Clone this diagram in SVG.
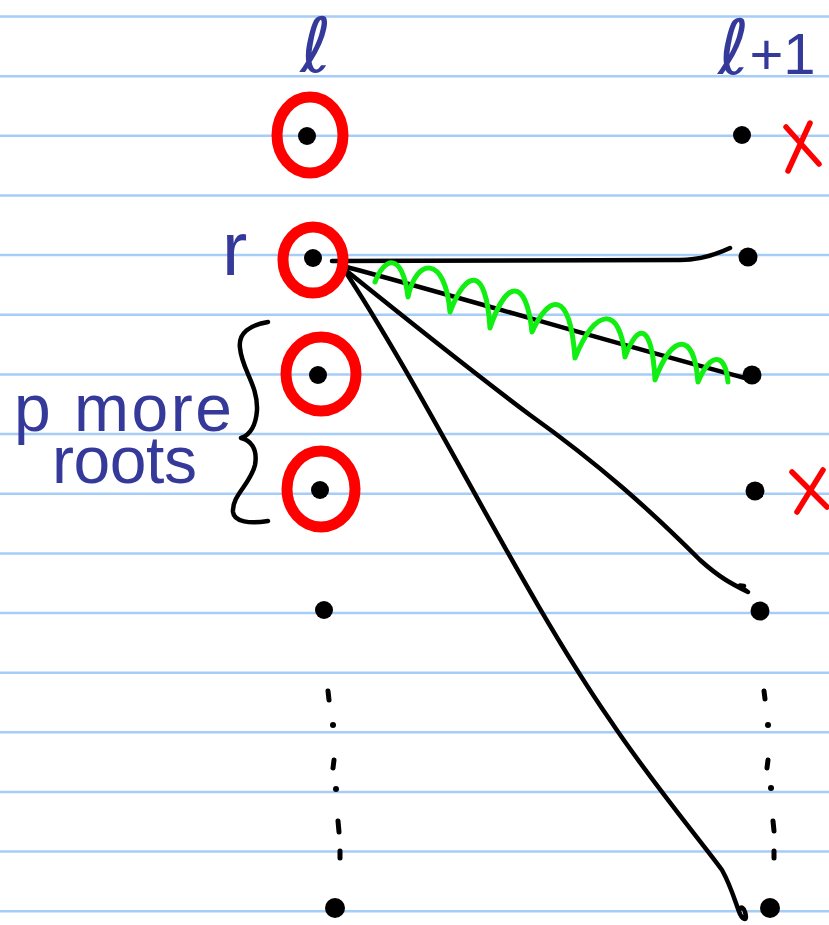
<svg xmlns="http://www.w3.org/2000/svg" width="829" height="925" viewBox="0 0 829 925">
<style>
.rule{stroke:#a6cdf7;stroke-width:2.5}
.ring{fill:none;stroke:#ff0000;stroke-width:11}
.dot{fill:#000}
.ink{fill:none;stroke:#000;stroke-width:4.5;stroke-linecap:round;stroke-linejoin:round}
.dash{fill:none;stroke:#000;stroke-width:5;stroke-linecap:round}
.wave{fill:none;stroke:#11ee11;stroke-width:5;stroke-linecap:round;stroke-linejoin:round}
.x{fill:none;stroke:#ff0000;stroke-width:5.5;stroke-linecap:round}
.lbl{fill:#34399a;font-family:"Liberation Sans",sans-serif}
.ell{font-family:"DejaVu Sans",sans-serif}
</style>
<rect width="829" height="925" fill="#fff"/>
<g id="rules">
<line class="rule" x1="0" y1="16.5" x2="829" y2="16.5"/>
<line class="rule" x1="0" y1="76.2" x2="829" y2="76.2"/>
<line class="rule" x1="0" y1="135.8" x2="829" y2="135.8"/>
<line class="rule" x1="0" y1="195.5" x2="829" y2="195.5"/>
<line class="rule" x1="0" y1="255.1" x2="829" y2="255.1"/>
<line class="rule" x1="0" y1="314.8" x2="829" y2="314.8"/>
<line class="rule" x1="0" y1="374.4" x2="829" y2="374.4"/>
<line class="rule" x1="0" y1="434.1" x2="829" y2="434.1"/>
<line class="rule" x1="0" y1="493.7" x2="829" y2="493.7"/>
<line class="rule" x1="0" y1="553.4" x2="829" y2="553.4"/>
<line class="rule" x1="0" y1="613" x2="829" y2="613"/>
<line class="rule" x1="0" y1="672.7" x2="829" y2="672.7"/>
<line class="rule" x1="0" y1="732.3" x2="829" y2="732.3"/>
<line class="rule" x1="0" y1="792" x2="829" y2="792"/>
<line class="rule" x1="0" y1="851.6" x2="829" y2="851.6"/>
<line class="rule" x1="0" y1="911.3" x2="829" y2="911.3"/>
</g>
<g id="labels">
<text class="lbl ell" x="316" y="72" font-size="76" text-anchor="middle">ℓ</text>
<text class="lbl" x="718" y="74" font-size="76"><tspan class="ell">ℓ</tspan><tspan font-size="58">+1</tspan></text>
<text class="lbl" x="222" y="275" font-size="76">r</text>
<text class="lbl" x="14" y="431" font-size="66" textLength="218">p more</text>
<text class="lbl" x="52" y="483" font-size="66" textLength="145">roots</text>
</g>
<g id="connectors">
<path class="ink" d="M332,261 L680,260 C700,260 715,255 730,248"/>
<path class="ink" d="M343,266 C470,300 620,345 745,378"/>
<path class="ink" d="M343,268 C420,330 470,370 530,415 C600,465 650,510 700,560 C720,578 732,584 748,592 C742,588 735,584 744,586"/>
<path class="ink" d="M343,268 C430,400 520,590 610,720 C650,780 700,840 722,870 C732,888 736,905 740,914 C743,920 748,922 745,912 C744,908 741,906 740,909"/>
<path class="wave" d="M375,282 C384,258 402,250 408,297 C416,258 445,254 450,312 C466,270 486,264 490,328 C506,280 526,276 532,332 C549,295 570,288 575,358 C595,308 620,304 625,357 C637,324 652,320 655,380 C672,334 694,330 698,382 C710,353 725,351 728,382"/>
<path class="ink" d="M268,322 C250,325 238,333 240,348 C242,370 258,385 257,410 C256,425 250,435 241,438 C250,440 258,448 255,465 C250,485 232,495 233,512 C234,522 250,524 268,521"/>
</g>
<g id="node-l1"><ellipse class="ring" cx="310" cy="135" rx="33" ry="38"/><circle class="dot" cx="307" cy="136" r="9"/></g>
<g id="node-r"><ellipse class="ring" cx="313" cy="260" rx="30" ry="33"/><circle class="dot" cx="313" cy="258" r="9"/></g>
<g id="node-l3"><ellipse class="ring" cx="321" cy="374" rx="35" ry="37"/><circle class="dot" cx="318" cy="375" r="9"/></g>
<g id="node-l4"><ellipse class="ring" cx="321" cy="489" rx="34" ry="38"/><circle class="dot" cx="320" cy="490" r="9"/></g>
<g id="node-l5"><circle class="dot" cx="324" cy="610" r="9"/></g>
<g id="node-l6"><circle class="dot" cx="335" cy="908" r="10"/></g>
<g id="left-ellipsis">
<line class="dash" x1="328" y1="691" x2="329" y2="700"/>
<circle class="dot" cx="333" cy="725" r="3"/>
<line class="dash" x1="334" y1="760" x2="333" y2="768"/>
<circle class="dot" cx="336" cy="789" r="3"/>
<line class="dash" x1="338" y1="821" x2="339" y2="832"/>
<line class="dash" x1="340" y1="851" x2="340" y2="858"/>
</g>
<g id="node-r1"><circle class="dot" cx="742" cy="135" r="9"/></g>
<g id="node-r2"><circle class="dot" cx="748" cy="257" r="9.5"/></g>
<g id="node-r3"><circle class="dot" cx="752" cy="375" r="9.5"/></g>
<g id="node-r4"><circle class="dot" cx="755" cy="491" r="9.5"/></g>
<g id="node-r5"><circle class="dot" cx="760" cy="611" r="9.5"/></g>
<g id="node-r6"><circle class="dot" cx="770" cy="908" r="10"/></g>
<g id="right-ellipsis">
<line class="dash" x1="764" y1="691" x2="765" y2="699"/>
<circle class="dot" cx="768" cy="725" r="3"/>
<line class="dash" x1="768" y1="760" x2="767" y2="768"/>
<circle class="dot" cx="771" cy="788" r="3"/>
<line class="dash" x1="773" y1="821" x2="774" y2="831"/>
<line class="dash" x1="774" y1="851" x2="774" y2="858"/>
</g>
<g id="x-marks">
<path class="x" d="M786,127 L819,164 M810,123 L788,171"/>
<path class="x" d="M792,472 L827,507 M823,470 L797,512"/>
</g>
</svg>
